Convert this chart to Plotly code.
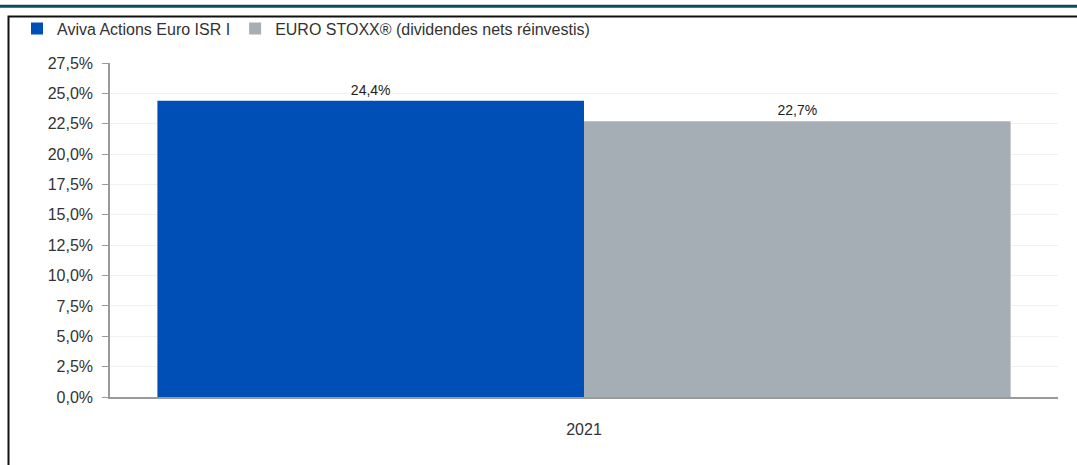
import plotly.graph_objects as go

categories = ["2021"]
series_names = ["Aviva Actions Euro ISR I", "EURO STOXX® (dividendes nets réinvestis)"]
fund_values = [24.4]
index_values = [22.7]
tick_values = [0, 2.5, 5, 7.5, 10, 12.5, 15, 17.5, 20, 22.5, 25, 27.5]
tick_labels = [f"{v:.1f}".replace(".", ",") + "%" for v in tick_values]
colors = ["#004fb6", "#a5aeb5"]

W, H = 1077, 465
L, R, T, B = 110, 19, 59, 68
ph = H - T - B

def py(p):
    return (H - B - p) / ph

def px(p):
    return (p - L) / (W - L - R)

fig = go.Figure()
for name, vals, col in zip(series_names, [fund_values, index_values], colors):
    fig.add_trace(go.Bar(
        x=categories, y=vals, name=name, marker=dict(color=col, line=dict(width=0)),
        text=[f"{v:.1f}".replace(".", ",") + "%" for v in vals],
        textposition="outside",
        textfont=dict(size=14, color="#222", family="Liberation Sans Narrow, Liberation Sans, Arial"),
        cliponaxis=False,
    ))

fig.update_layout(
    width=W, height=H,
    margin=dict(l=L, r=R, t=T, b=B),
    barmode="group", bargap=0.1, bargroupgap=0,
    separators=",.",
    plot_bgcolor="white", paper_bgcolor="white",
    font=dict(family="Liberation Sans, Arial, sans-serif", color="#333"),
    showlegend=True,
    legend=dict(orientation="h", x=px(17), y=py(7), xanchor="left", yanchor="top",
                font=dict(size=16, color="#333"), tracegroupgap=0,
                bgcolor="rgba(0,0,0,0)"),
    xaxis=dict(showline=True, linecolor="#9a9a9a", linewidth=1.5,
               ticks="outside", ticklen=17, tickcolor="rgba(0,0,0,0)",
               tickfont=dict(size=16, color="#333"), showgrid=False),
    yaxis=dict(range=[0, 27.5], tickmode="array", tickvals=tick_values, ticktext=tick_labels,
               showline=True, linecolor="#9a9a9a", linewidth=1.5,
               ticks="outside", ticklen=6, tickcolor="#9a9a9a", ticklabelstandoff=6,
               tickfont=dict(size=16, color="#333"),
               showgrid=True, gridcolor="#f0f0f0", zeroline=False),
    shapes=[
        dict(type="rect", xref="paper", yref="paper", x0=px(0), x1=px(W), y0=py(0), y1=py(3),
             fillcolor="#0b4c5a", line=dict(width=0), layer="above"),
        dict(type="rect", xref="paper", yref="paper", x0=px(8.5), x1=px(W + 10),
             y0=py(12), y1=py(H + 10),
             line=dict(color="#111", width=2), fillcolor="rgba(0,0,0,0)", layer="above"),
    ],
)

fig.write_html("out.html", config={"displayModeBar": False},
               post_script="document.body.style.margin='0';")
